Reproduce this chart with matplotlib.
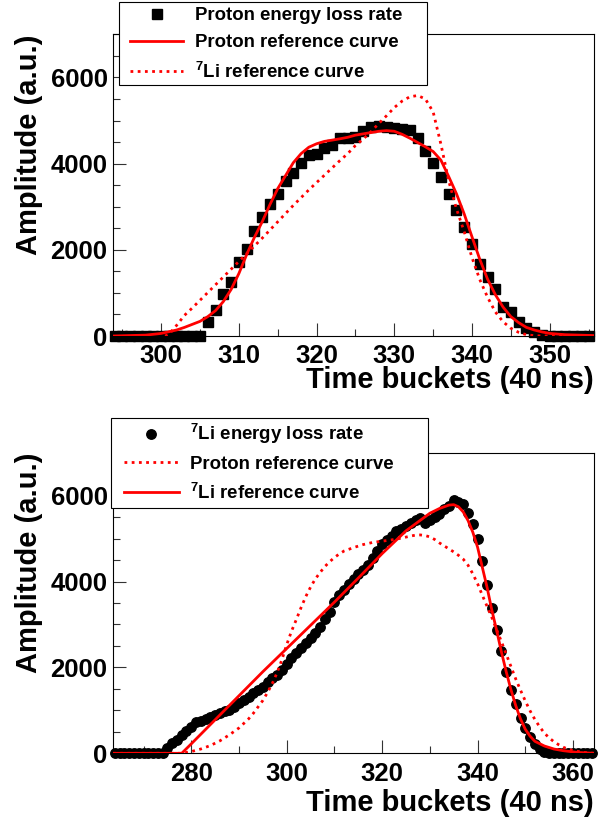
import matplotlib
matplotlib.use('Agg')
import matplotlib.pyplot as plt
from matplotlib.lines import Line2D
from matplotlib.patches import Rectangle
from matplotlib.ticker import MultipleLocator

plt.rcParams['font.family'] = ['Liberation Sans', 'DejaVu Sans']
plt.rcParams['font.weight'] = 'bold'
plt.rcParams['mathtext.fontset'] = 'custom'
plt.rcParams['mathtext.rm'] = 'Liberation Sans:bold'
plt.rcParams['mathtext.it'] = 'Liberation Sans:bold'
plt.rcParams['mathtext.bf'] = 'Liberation Sans:bold'
plt.rcParams['mathtext.default'] = 'rm'

# ---------------- top panel: proton ----------------
# measured energy loss rate (one value per time bucket)
p_bucket = list(range(294, 356))
p_amp = [0, 0, 0, 0, 0, 0, 0, 0, 0, 0, 0, 0,
         330, 600, 965, 1255, 1720, 2025, 2440, 2760, 3070, 3300,
         3590, 3775, 4010, 4190, 4230, 4360, 4430, 4590, 4600, 4620,
         4750, 4850, 4880, 4855, 4820, 4800, 4780, 4590, 4300, 4010,
         3700, 3300, 2930, 2530, 2140, 1680, 1370, 1090, 680, 560,
         330, 180, 100, 25,
         0, 0, 0, 0, 0, 0]

# proton reference curve (solid)
p_ref_x = [293.8, 298, 300, 302, 303, 304, 305, 306, 307, 308, 309, 310, 311,
           312, 313, 314, 315, 316, 317, 318, 319, 320, 321, 322, 323, 324,
           325, 326, 327, 328, 329, 330, 331, 332, 333, 334, 335, 336, 337,
           338, 339, 340, 341, 342, 343, 344, 345, 346, 347, 348, 349, 350,
           352, 355.7]
p_ref_y = [0, 20, 60, 140, 200, 270, 340, 450, 590, 800, 1080, 1450, 1890,
           2290, 2650, 3050, 3420, 3720, 4020, 4230, 4380, 4460, 4515, 4545,
           4575, 4610, 4660, 4690, 4720, 4750, 4765, 4750, 4680, 4590, 4490,
           4390, 4280, 4080, 3700, 3300, 2830, 2300, 1780, 1320, 960, 670,
           450, 310, 200, 140, 95, 60, 30, 10]

# 7Li reference curve (dotted)
li_ref_x = [300.5, 301, 302, 303, 304, 305, 306, 307, 308, 309, 310, 311, 312,
            313, 314, 315, 316, 317, 318, 319, 320, 321, 322, 323, 324, 325,
            326, 327, 328, 329, 330, 331, 332, 333, 334, 335, 336, 337, 338,
            339, 340, 341, 342, 343, 344, 345, 346, 347, 348, 349, 355.7]
li_ref_y = [0, 40, 250, 480, 650, 830, 1010, 1190, 1370, 1550, 1730, 1910,
            2090, 2270, 2460, 2650, 2840, 3030, 3210, 3390, 3560, 3730, 3900,
            4070, 4230, 4420, 4570, 4740, 4930, 5110, 5300, 5450, 5550, 5580,
            5500, 5200, 4450, 3600, 2950, 2420, 1820, 1310, 900, 560, 330,
            180, 85, 30, 8, 0, 0]

# ---------------- bottom panel: 7Li ----------------
l_bucket = list(range(264, 365))
l_amp = [0, 0, 0, 0, 0, 0, 0, 0, 0, 0, 0,
         120, 230, 310, 420, 510, 620, 730, 760, 800, 850,
         890, 940, 990, 1010, 1080, 1170, 1240, 1320, 1400, 1480,
         1550, 1660, 1750, 1830, 1950, 2080, 2220, 2340, 2450, 2560,
         2680, 2800, 2930, 3130, 3300, 3520, 3680, 3800, 3950, 4060,
         4170, 4280, 4390, 4540, 4700, 4870, 4960, 5050, 5170, 5230,
         5300, 5370, 5430, 5470, 5360, 5440, 5510, 5580, 5680, 5760,
         5900, 5860, 5800, 5600, 5330, 5000, 4480, 3930, 3380, 2880,
         2380, 1900, 1480, 1150, 830, 580, 380, 220, 90, 20,
         0, 0, 0, 0, 0, 0, 0, 0, 0, 0]

# proton reference curve (dotted)
p_ref2_x = [263.6, 278, 280, 282, 284, 286, 288, 290, 292, 293, 294, 295, 296,
            297, 298, 299, 300, 301, 302, 303, 304, 305, 306, 307, 308, 309,
            310, 311, 312, 314, 316, 318, 320, 322, 324, 326, 327, 328, 329,
            330, 331, 332, 333, 334, 335, 336, 337, 338, 339, 340, 341, 342,
            343, 344, 345, 346, 347, 348, 349, 350, 351, 352, 353, 354, 355,
            356, 357, 358, 359, 360, 362, 364.4]
p_ref2_y = [0, 0, 40, 100, 180, 290, 430, 590, 800, 930, 1080, 1230, 1420,
            1630, 1880, 2180, 2530, 2840, 3110, 3390, 3650, 3870, 4060, 4210,
            4350, 4460, 4560, 4640, 4710, 4790, 4860, 4910, 4940, 4970, 5010,
            5060, 5080, 5085, 5070, 5040, 4980, 4900, 4830, 4760, 4690, 4610,
            4520, 4380, 4180, 3950, 3680, 3420, 3160, 2880, 2600, 2310, 2020,
            1730, 1470, 1220, 990, 790, 620, 470, 360, 270, 200, 140, 95, 65,
            25, 0]

# 7Li reference curve (solid)
li_ref2_x = [263.6, 278, 280, 285, 290, 295, 300, 305, 310, 315, 320, 325,
             330, 332, 334, 335, 336, 337, 338, 339, 340, 341, 342, 343, 344,
             345, 346, 347, 348, 349, 350, 351, 352, 354, 356, 358, 361, 364.4]
li_ref2_y = [0, 0, 220, 780, 1340, 1900, 2440, 2980, 3520, 4080, 4650, 5180,
             5590, 5700, 5780, 5790, 5740, 5620, 5420, 5150, 4800, 4330, 3860,
             3330, 2860, 2360, 1900, 1480, 1110, 800, 560, 400, 280, 170, 100,
             60, 20, 0]

W, H = 611, 819
fig = plt.figure(figsize=(W / 100, H / 100), dpi=100)
fig.patch.set_facecolor('white')

ax1 = fig.add_axes([113 / W, 1 - 336 / H, 481 / W, 301.7 / H])
ax2 = fig.add_axes([113 / W, 1 - 753.3 / H, 481 / W, 300.6 / H])

dot = (0, (1, 1.6))

ax1.plot(p_bucket, p_amp, 's', color='black', ms=7, clip_on=False, zorder=2)
ax1.plot(li_ref_x, li_ref_y, color='red', lw=2, ls=dot, zorder=3)
ax1.plot(p_ref_x, p_ref_y, color='red', lw=2, zorder=3)
ax1.set_xlim(293.8, 355.7)
ax1.xaxis.set_major_locator(MultipleLocator(10))
ax1.xaxis.set_minor_locator(MultipleLocator(5))

ax2.plot(l_bucket, l_amp, 'o', color='black', ms=6.8, clip_on=False, zorder=2)
ax2.plot(p_ref2_x, p_ref2_y, color='red', lw=2, ls=dot, zorder=3)
ax2.plot(li_ref2_x, li_ref2_y, color='red', lw=2, zorder=3)
ax2.set_xlim(263.6, 364.4)
ax2.xaxis.set_major_locator(MultipleLocator(20))
ax2.xaxis.set_minor_locator(MultipleLocator(10))

for ax, xly in ((ax1, -0.1), (ax2, -0.118)):
    ax.set_ylim(0, 7000)
    ax.yaxis.set_major_locator(MultipleLocator(2000))
    ax.yaxis.set_minor_locator(MultipleLocator(500))
    for s in ax.spines.values():
        s.set_linewidth(0.8)
    ax.tick_params(which='both', direction='in', top=False, right=False,
                   width=0.8, color='#333333')
    ax.tick_params(which='major', length=9.5, labelsize=18.5)
    ax.tick_params(which='minor', length=4.8)
    ax.tick_params(axis='y', which='major', pad=3.9)
    ax.tick_params(axis='x', which='major', pad=6)
    ax.set_ylabel('Amplitude (a.u.)', fontsize=21, fontweight='bold', loc='top')
    ax.yaxis.set_label_coords(-0.1455, 1.0)
    ax.set_xlabel('Time buckets (40 ns)', fontsize=21, fontweight='bold', loc='right')
    ax.xaxis.set_label_coords(1.0, xly)

# legend boxes drawn in figure pixels
def legend_box(x0, y0, x1, y1):
    fig.add_artist(Rectangle((x0 / W, 1 - y1 / H), (x1 - x0) / W, (y1 - y0) / H,
                             transform=fig.transFigure, facecolor='white',
                             edgecolor='black', lw=0.8, zorder=4))

legend_box(118.9, 2, 426.7, 85)
legend_box(111, 417.8, 428.3, 507.5)

fs = 13.4
h_sq = Line2D([], [], marker='s', ls='none', color='black', ms=7)
h_ci = Line2D([], [], marker='o', ls='none', color='black', ms=6.8)
h_solid = Line2D([], [], color='red', lw=2)
h_dot = Line2D([], [], color='red', lw=2, ls=dot)

leg1 = fig.legend([h_sq, h_solid, h_dot],
                  ['Proton energy loss rate', 'Proton reference curve',
                   r'$^{7}$Li reference curve'],
                  loc='upper left', bbox_to_anchor=(130 / W, 1 - 7 / H),
                  frameon=False, borderpad=0, borderaxespad=0,
                  handlelength=2.85, handletextpad=0.62, labelspacing=0.56,
                  prop={'size': fs, 'weight': 'bold'})
leg1.set_zorder(5)

leg2 = fig.legend([h_ci, h_dot, h_solid],
                  [r'$^{7}$Li energy loss rate', 'Proton reference curve',
                   r'$^{7}$Li reference curve'],
                  loc='upper left', bbox_to_anchor=(124 / W, 1 - 422 / H),
                  frameon=False, borderpad=0, borderaxespad=0,
                  handlelength=2.93, handletextpad=0.6, labelspacing=0.52,
                  prop={'size': fs, 'weight': 'bold'})
leg2.set_zorder(5)

fig.savefig('out.png', dpi=100)
